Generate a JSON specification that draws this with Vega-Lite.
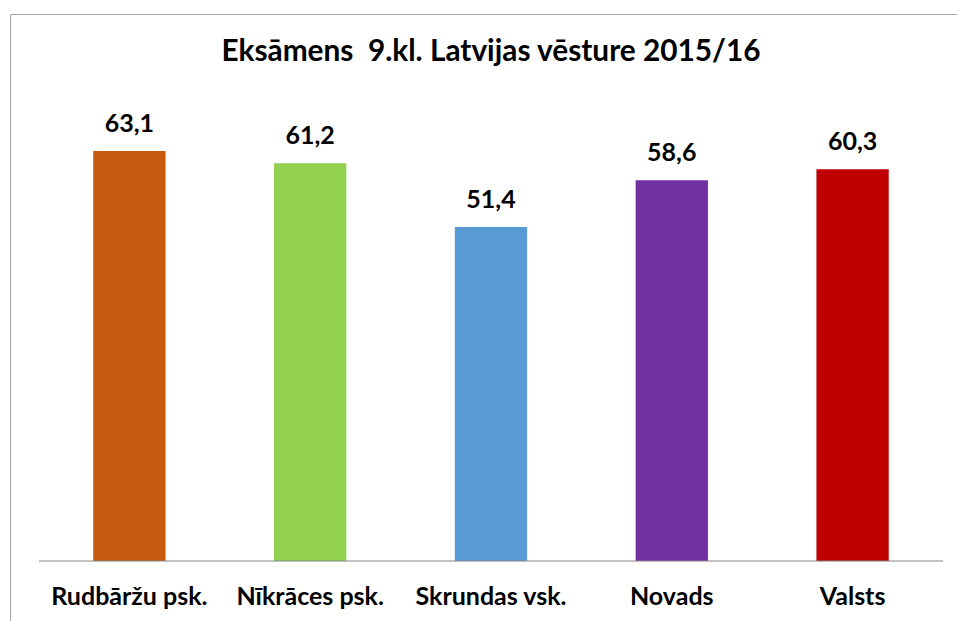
{
  "$schema": "https://vega.github.io/schema/vega-lite/v6.json",
  "width": 950,
  "height": 615,
  "autosize": {"type": "none"},
  "padding": {"left": 10, "top": 14, "right": 0, "bottom": 0},
  "background": "white",
  "config": {
    "view": {"stroke": "#a6a6a6", "strokeWidth": 1},
    "locale": {"number": {"decimal": ",", "thousands": " ", "grouping": [3], "currency": ["", " €"]}},
    "font": "Lato"
  },
  "title": {
    "text": "Eksāmens\u00a0 9.kl. Latvijas vēsture 2015/16",
    "font": "Lato",
    "fontSize": 29.8,
    "fontWeight": "bold",
    "color": "#000000",
    "anchor": "middle",
    "frame": "group",
    "offset": -77,
    "baseline": "alphabetic",
    "dx": 6
  },
  "data": {
    "values": [
      {"cat": "Rudbāržu psk.", "val": 63.1},
      {"cat": "Nīkrāces psk.", "val": 61.2},
      {"cat": "Skrundas vsk.", "val": 51.4},
      {"cat": "Novads", "val": 58.6},
      {"cat": "Valsts", "val": 60.3}
    ]
  },
  "encoding": {
    "x": {
      "field": "cat",
      "type": "nominal",
      "sort": null,
      "scale": {"paddingInner": 0, "paddingOuter": 0.1272, "align": 0.63},
      "axis": {
        "title": null,
        "orient": "bottom",
        "offset": -25,
        "domain": false,
        "ticks": false,
        "labelPadding": 0,
        "labelBaseline": "alphabetic",
        "labelAngle": 0,
        "labelFont": "Lato",
        "labelFontSize": 25,
        "labelFontWeight": "bold",
        "labelColor": "#000000",
        "grid": false
      }
    }
  },
  "layer": [
    {
      "mark": {"type": "bar", "width": {"band": 0.4}},
      "encoding": {
        "y": {
          "field": "val",
          "type": "quantitative",
          "scale": {"domain": [-10.46, 84.18], "nice": false, "zero": false},
          "axis": null
        },
        "y2": {"datum": 0},
        "color": {
          "field": "cat",
          "type": "nominal",
          "sort": null,
          "scale": {"range": ["#C55A11", "#92D050", "#5B9BD5", "#7030A0", "#C00000"]},
          "legend": null
        }
      }
    },
    {
      "mark": {"type": "text", "dy": -19, "baseline": "alphabetic", "font": "Lato", "fontSize": 25, "fontWeight": "bold", "color": "#000000"},
      "encoding": {
        "y": {"field": "val", "type": "quantitative"},
        "text": {"field": "val", "type": "quantitative", "format": ".1f"}
      }
    },
    {
      "mark": {"type": "rule", "color": "#868686", "strokeWidth": 1},
      "encoding": {
        "x": {"field": "cat", "type": "nominal", "sort": null, "bandPosition": 0},
        "x2": {"field": "cat", "bandPosition": 1},
        "y": {"datum": 0}
      }
    }
  ]
}
